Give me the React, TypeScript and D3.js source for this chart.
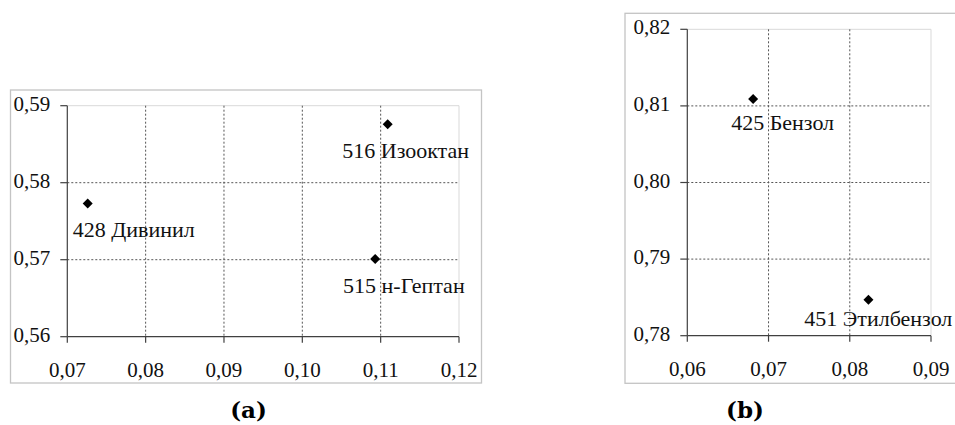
import React from "react";
import * as d3 from "d3";

// Panel (a) data
const aXTicks = [0.07, 0.08, 0.09, 0.1, 0.11, 0.12];
const aYTicks = [0.56, 0.57, 0.58, 0.59];
const aNames = ["428 Дивинил", "516 Изооктан", "515 н-Гептан"];
const aX = [0.0726, 0.1109, 0.1093];
const aY = [0.5773, 0.5876, 0.5701];
const aLabelX = [0.0707, 0.1051, 0.1052];
const aLabelY = [0.573, 0.5832, 0.5657];

// Panel (b) data
const bXTicks = [0.06, 0.07, 0.08, 0.09];
const bYTicks = [0.78, 0.79, 0.8, 0.81, 0.82];
const bNames = ["425 Бензол", "451 Этилбензол"];
const bX = [0.0681, 0.0823];
const bY = [0.8109, 0.7847];
const bLabelX = [0.0654, 0.0744];
const bLabelY = [0.8069, 0.7813];

const fmt = (v: number) => d3.format(".2f")(v).replace(".", ",");
const FONT = "Liberation Serif, Tinos, Times New Roman, serif";

type PanelProps = {
  frame: [number, number, number, number];
  plot: { left: number; right: number; top: number; bottom: number };
  xTicks: number[];
  yTicks: number[];
  names: string[];
  xs: number[];
  ys: number[];
  lx: number[];
  ly: number[];
};

function Panel(p: PanelProps) {
  const x = d3
    .scaleLinear()
    .domain([p.xTicks[0], p.xTicks[p.xTicks.length - 1]])
    .range([p.plot.left, p.plot.right]);
  const y = d3
    .scaleLinear()
    .domain([p.yTicks[0], p.yTicks[p.yTicks.length - 1]])
    .range([p.plot.bottom, p.plot.top]);
  const diamond = d3.symbol().type(d3.symbolSquare).size(50)() as string;
  const [fx, fy, fw, fh] = p.frame;
  return (
    <g>
      <rect x={fx} y={fy} width={fw} height={fh} fill="#fff" stroke="#c4c4c4" strokeWidth={1.3} />
      <line x1={x.range()[0]} x2={x.range()[1]} y1={y.range()[1]} y2={y.range()[1]} stroke="#d9d9d9" strokeWidth={1} />
      <line x1={x.range()[1]} x2={x.range()[1]} y1={y.range()[1]} y2={y.range()[0]} stroke="#d9d9d9" strokeWidth={1} />
      {p.xTicks.slice(1, -1).map((t) => (
        <line key={"gx" + t} x1={x(t)} x2={x(t)} y1={y.range()[1]} y2={y.range()[0]} stroke="#555" strokeWidth={1} strokeDasharray="2,2" />
      ))}
      {p.yTicks.slice(1, -1).map((t) => (
        <line key={"gy" + t} x1={x.range()[0]} x2={x.range()[1]} y1={y(t)} y2={y(t)} stroke="#555" strokeWidth={1} strokeDasharray="2,2" />
      ))}
      <line x1={x.range()[0]} x2={x.range()[0]} y1={y.range()[1]} y2={y.range()[0]} stroke="#404040" strokeWidth={1.2} />
      <line x1={x.range()[0]} x2={x.range()[1]} y1={y.range()[0]} y2={y.range()[0]} stroke="#404040" strokeWidth={1.2} />
      {p.yTicks.map((t) => (
        <g key={"ty" + t}>
          <line x1={x.range()[0] - 7} x2={x.range()[0]} y1={y(t)} y2={y(t)} stroke="#404040" strokeWidth={1.2} />
          <text x={x.range()[0] - 17} y={y(t) + 5} textAnchor="end" style={{ fontFamily: FONT }} fontSize={21} fill="#111">
            {fmt(t)}
          </text>
        </g>
      ))}
      {p.xTicks.map((t) => (
        <g key={"tx" + t}>
          <line x1={x(t)} x2={x(t)} y1={y.range()[0]} y2={y.range()[0] + 6} stroke="#404040" strokeWidth={1.2} />
          <text x={x(t)} y={y.range()[0] + 40} textAnchor="middle" style={{ fontFamily: FONT }} fontSize={21} fill="#111">
            {fmt(t)}
          </text>
        </g>
      ))}
      {p.names.map((n, i) => (
        <g key={n}>
          <path d={diamond} transform={`translate(${x(p.xs[i])},${y(p.ys[i])}) rotate(45)`} fill="#000" />
          <text x={x(p.lx[i])} y={y(p.ly[i])} style={{ fontFamily: FONT }} fontSize={22} fill="#111">
            {n}
          </text>
        </g>
      ))}
    </g>
  );
}

export default function App() {
  return (
    <svg width={955} height={425} style={{ position: "absolute", left: 0, top: 0, background: "#fff" }}>
      <rect width={955} height={425} fill="#fff" />
      <Panel
        frame={[10.5, 90, 471, 293]}
        plot={{ left: 67.3, right: 459, top: 105.7, bottom: 336.7 }}
        xTicks={aXTicks}
        yTicks={aYTicks}
        names={aNames}
        xs={aX}
        ys={aY}
        lx={aLabelX}
        ly={aLabelY}
      />
      <Panel
        frame={[625, 13.3, 340, 370]}
        plot={{ left: 687.3, right: 931, top: 29.3, bottom: 335.7 }}
        xTicks={bXTicks}
        yTicks={bYTicks}
        names={bNames}
        xs={bX}
        ys={bY}
        lx={bLabelX}
        ly={bLabelY}
      />
      <text x={248.5} y={418} textAnchor="middle" style={{ fontFamily: "DejaVu Serif, serif" }} fontWeight="bold" fontSize={23}>
        (a)
      </text>
      <text x={745} y={418} textAnchor="middle" style={{ fontFamily: "DejaVu Serif, serif" }} fontWeight="bold" fontSize={23}>
        (b)
      </text>
    </svg>
  );
}
